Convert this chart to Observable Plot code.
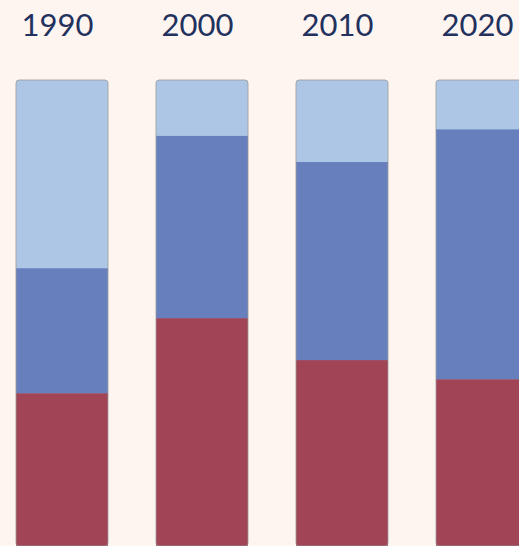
<!DOCTYPE html>
<html>
<head>
<meta charset="utf-8">
<script src="https://cdn.jsdelivr.net/npm/d3@7"></script>
<script src="https://cdn.jsdelivr.net/npm/@observablehq/plot@0.6"></script>
<style>
  html, body { margin: 0; padding: 0; background: #fef5f0; }
  #chart svg { display: block; }
</style>
</head>
<body>
<div id="chart"></div>
<script>
// Data (shares of each bar, percent)
const years = ["1990", "2000", "2010", "2020"];
const redShare = [32.8, 48.9, 39.9, 35.8];
const midShare = [26.8, 39.1, 42.5, 53.6];
const lightShare = [40.4, 12.0, 17.6, 10.6];
const seriesNames = ["red", "mid", "light"];
const seriesColors = ["#a04456", "#6780bd", "#adc6e5"];

const rows = [];
years.forEach((yr, i) => {
  rows.push({year: yr, series: "red", value: redShare[i]});
  rows.push({year: yr, series: "mid", value: midShare[i]});
  rows.push({year: yr, series: "light", value: lightShare[i]});
});
const totals = years.map((yr, i) => ({year: yr, total: redShare[i] + midShare[i] + lightShare[i]}));

const chart = Plot.plot({
  width: 519,
  height: 546,
  marginTop: 80,
  marginBottom: 0,
  marginLeft: 0,
  marginRight: 0,
  style: {background: "#fef5f0", fontFamily: "Lato, sans-serif", overflow: "visible"},
  x: {domain: years, range: [15, 528.5], paddingInner: 0.345, paddingOuter: 0, axis: null},
  y: {domain: [0, 100], axis: null},
  color: {domain: seriesNames, range: seriesColors},
  marks: [
    // base (light) with rounded top
    Plot.barY(totals, {x: "year", y: "total", fill: seriesColors[2], rx: 3}),
    // lower segments
    Plot.barY(rows.filter(d => d.series !== "light"), Plot.stackY({
      x: "year", y: "value", fill: "series", order: seriesNames
    })),
    // outline
    Plot.barY(totals, {x: "year", y: "total", fill: "none", stroke: "#9a9a9a", strokeWidth: 1, strokeOpacity: 0.8, rx: 3}),
    Plot.text(years, {
      x: d => d, text: d => d, frameAnchor: "top", lineAnchor: "bottom",
      dy: -45, dx: -5, fontSize: 31, fill: "#22315e"
    })
  ]
});
document.getElementById("chart").appendChild(chart);
</script>
</body>
</html>
